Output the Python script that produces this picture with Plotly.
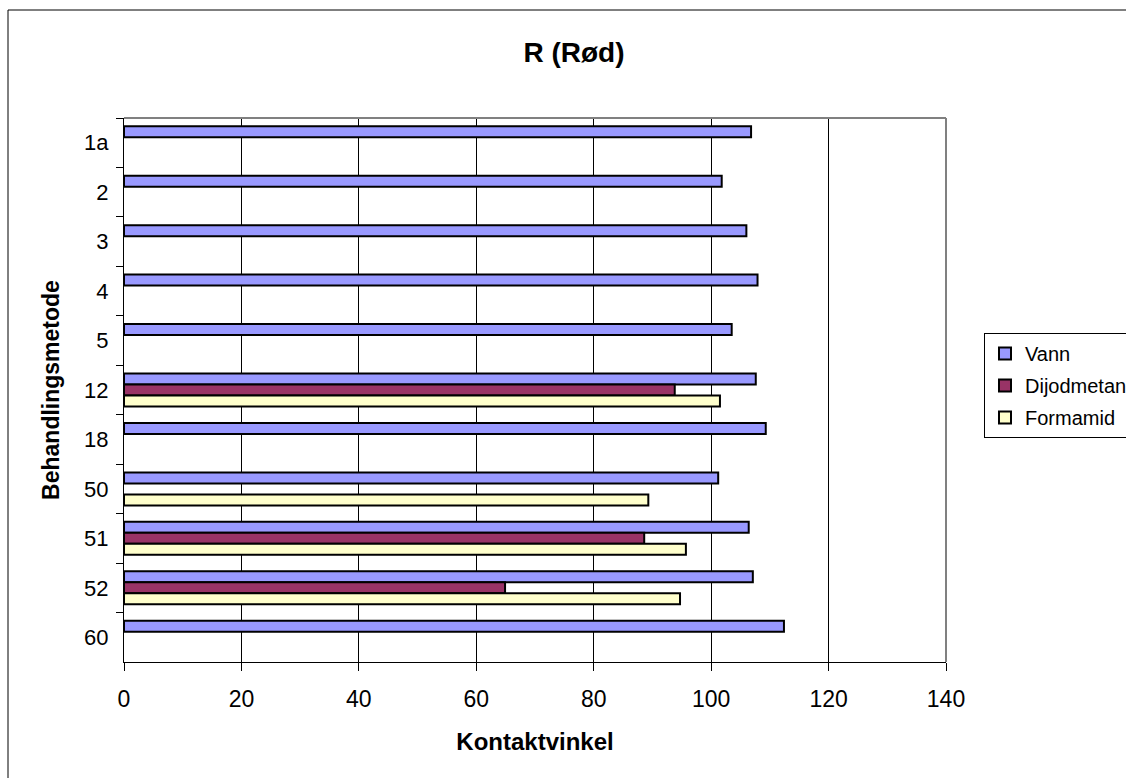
import plotly.graph_objects as go

# Treatment methods (top to bottom) and measured contact angles
categories = ["1a", "2", "3", "4", "5", "12", "18", "50", "51", "52", "60"]
vann = [106.8, 101.8, 106.0, 107.9, 103.5, 107.6, 109.3, 101.2, 106.4, 107.1, 112.4]
dijodmetan = [None, None, None, None, None, 93.8, None, None, 88.6, 64.9, None]
formamid = [None, None, None, None, None, 101.5, None, 89.3, 95.7, 94.7, None]

series = [
    ("Vann", vann, "#9999FF"),
    ("Dijodmetan", dijodmetan, "#993366"),
    ("Formamid", formamid, "#FFFFCC"),
]

x_ticks = [0, 20, 40, 60, 80, 100, 120, 140]

FONT = "Liberation Sans, Arial, sans-serif"

fig = go.Figure()
for name, values, color in series:
    fig.add_trace(go.Bar(
        name=name,
        y=categories,
        x=values,
        orientation="h",
        legendgroup=name,
        marker=dict(color=color, line=dict(color="#000000", width=2)),
    ))

W, H = 1126, 778
L, R, T, B = 124, 180, 118, 116
pw, ph = W - L - R, H - T - B


def px_x(x):
    return (x - L) / pw


def px_y(y):
    return (H - B - y) / ph


fig.update_layout(
    width=W,
    height=H,
    margin=dict(l=L, r=R, t=T, b=B, autoexpand=False),
    paper_bgcolor="white",
    plot_bgcolor="white",
    barmode="group",
    bargap=0.333,
    bargroupgap=0,
    font=dict(family=FONT, size=22, color="#000000"),
    title=dict(
        text="<b>R (Rød)</b>",
        font=dict(family=FONT, size=28, color="#000000"),
        xref="container", x=574 / W, xanchor="center",
        yref="container", y=1 - 52 / H, yanchor="middle",
    ),
    xaxis=dict(
        range=[0, 140],
        tickvals=x_ticks,
        showgrid=True,
        gridcolor="#000000",
        gridwidth=1,
        zeroline=False,
        showline=True,
        linecolor="#000000",
        linewidth=1,
        ticks="outside",
        ticklen=8,
        tickcolor="#000000",
        ticklabelstandoff=8,
        tickfont=dict(size=23),
        title=dict(text="<b>Kontaktvinkel</b>", font=dict(size=24), standoff=22),
    ),
    yaxis=dict(
        type="category",
        autorange="reversed",
        showgrid=False,
        zeroline=False,
        showline=True,
        linecolor="#000000",
        linewidth=1,
        ticks="outside",
        tickson="boundaries",
        ticklen=7,
        tickcolor="#000000",
        ticklabelstandoff=10,
        tickfont=dict(size=22),
        title=dict(text="<b>Behandlingsmetode</b>", font=dict(size=23), standoff=18),
    ),
    legend=dict(
        x=px_x(984), y=px_y(333), xanchor="left", yanchor="top",
        bgcolor="white", bordercolor="#000000", borderwidth=1,
        font=dict(family=FONT, size=20, color="#000000"),
        tracegroupgap=3,
        itemwidth=30,
    ),
    shapes=[
        # chart area border
        dict(type="rect", xref="paper", yref="paper",
             x0=px_x(8), x1=px_x(1160), y0=px_y(800), y1=px_y(10),
             line=dict(color="#000000", width=1), layer="below"),
        # plot area frame (top and right)
        dict(type="line", xref="paper", yref="paper", x0=0, x1=1, y0=1, y1=1,
             line=dict(color="#808080", width=2)),
        dict(type="line", xref="paper", yref="paper", x0=1, x1=1, y0=0, y1=1,
             line=dict(color="#808080", width=2)),
    ],
)

fig.write_html("out.html")
